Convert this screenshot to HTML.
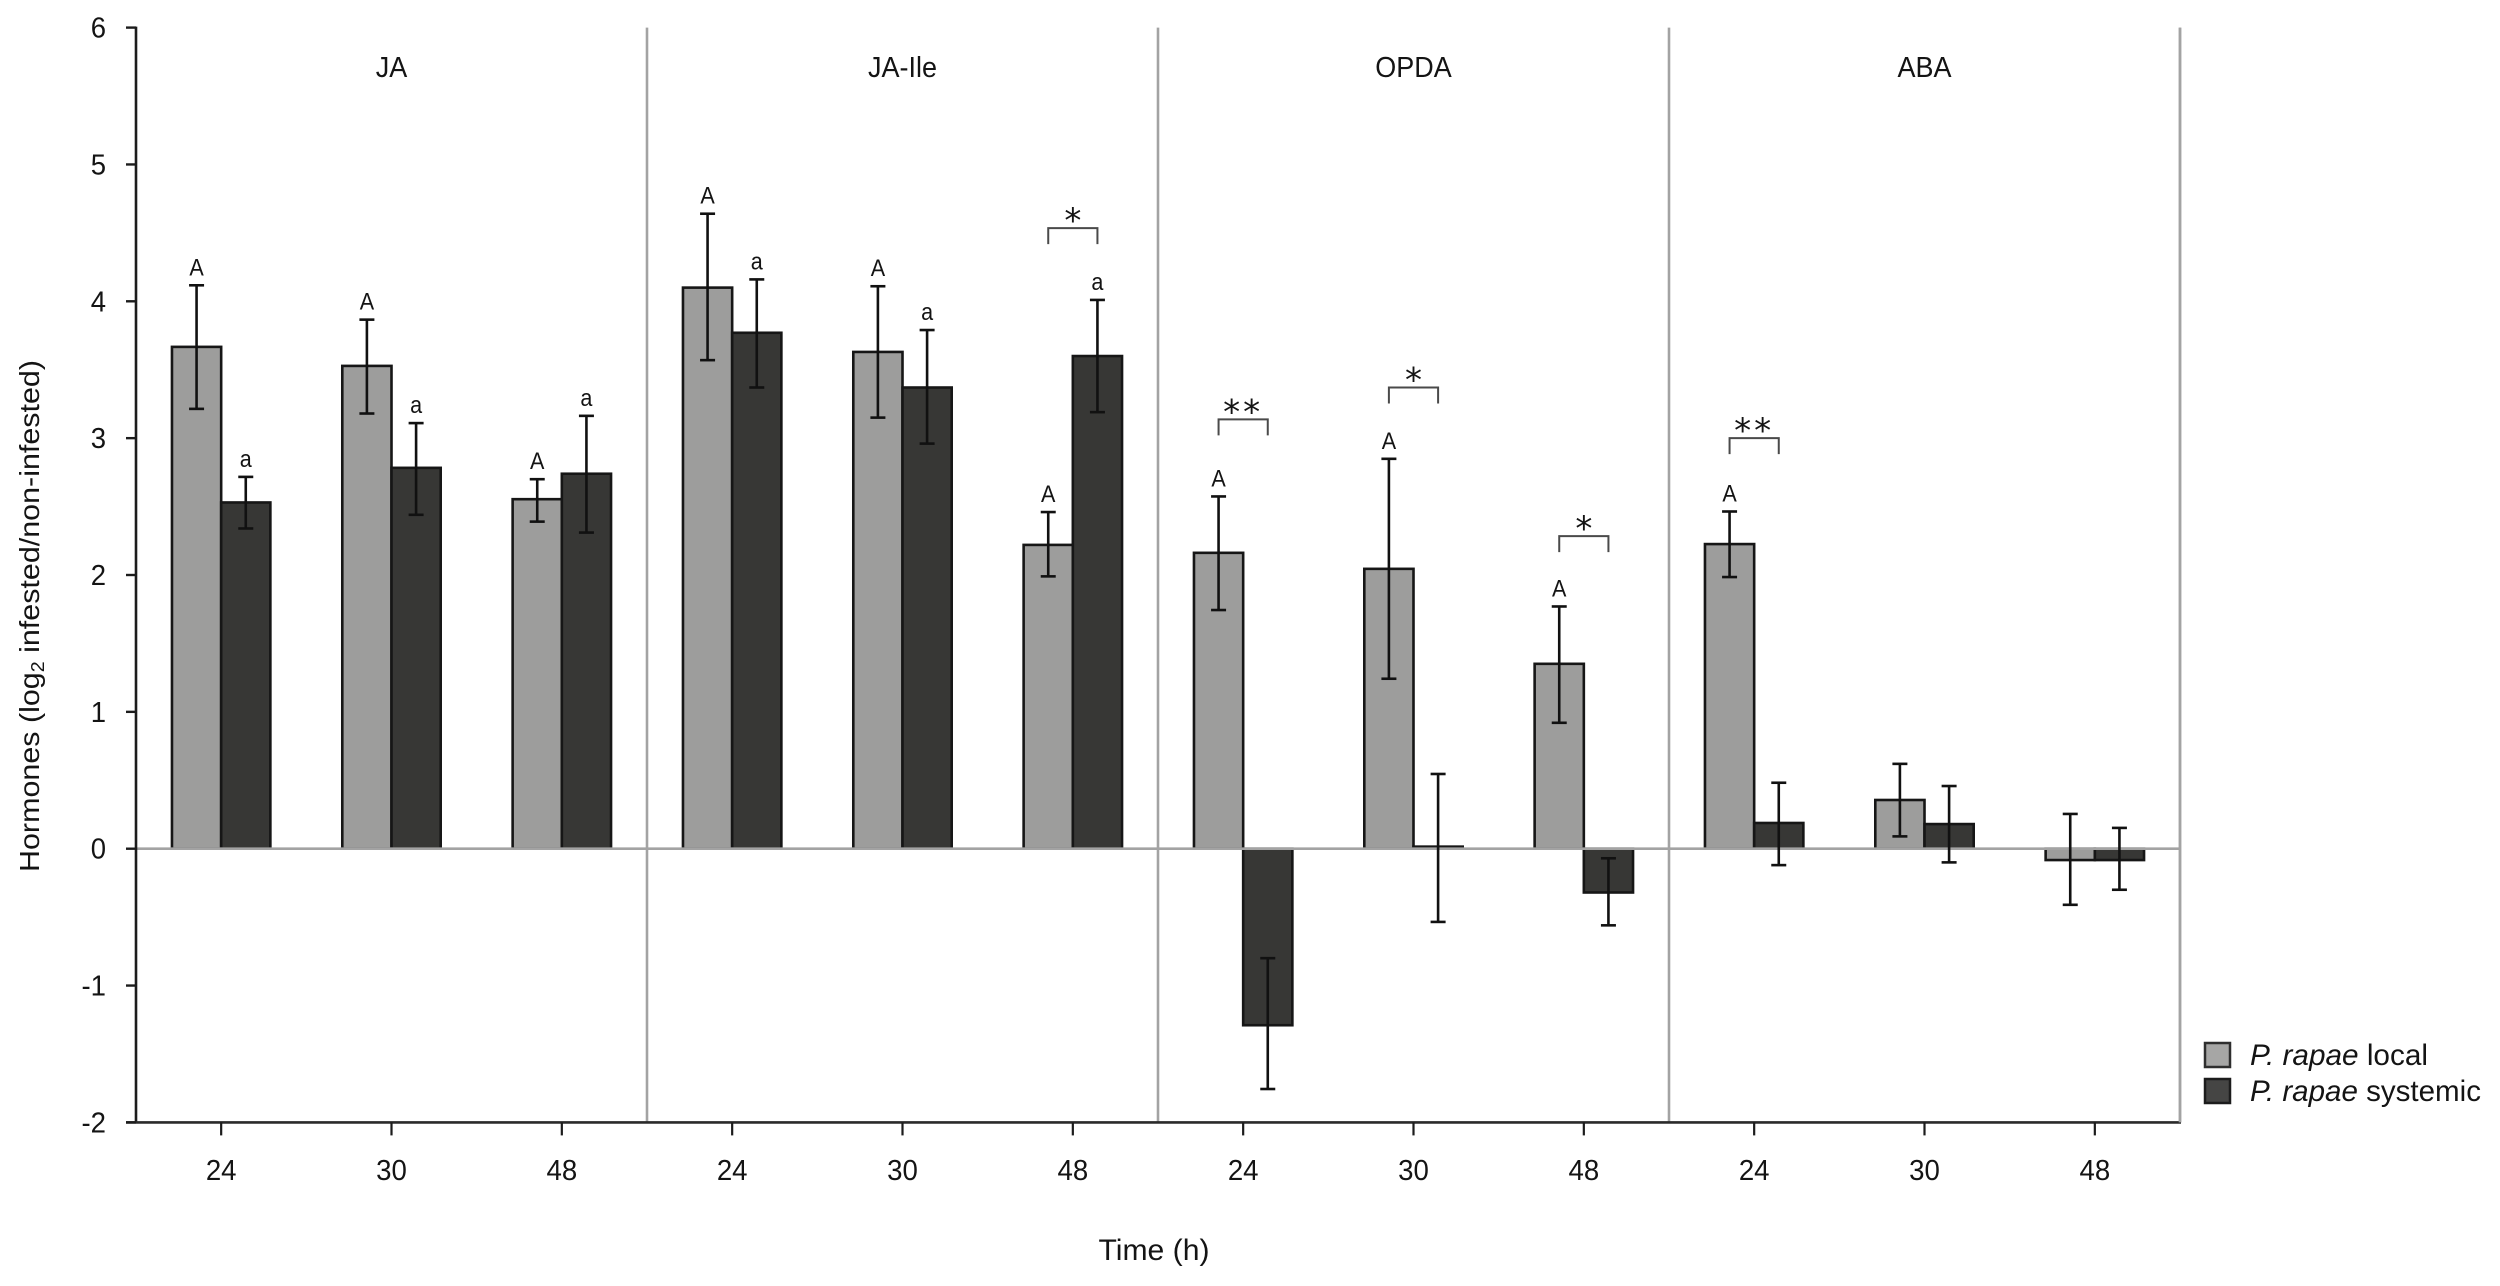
<!DOCTYPE html>
<html lang="en">
<head>
<meta charset="utf-8">
<title>Hormones bar chart</title>
<style>
html,body{margin:0;padding:0;background:#fff;}
#chart{display:block;width:2500px;height:1286px;font-family:"Liberation Sans",sans-serif;fill:#141414;}
</style>
</head>
<body>
<svg id="chart" xmlns="http://www.w3.org/2000/svg" width="2500" height="1286" viewBox="0 0 2500 1286">
  <g id="plot-bars"></g>
  <g id="plot-grid"></g>
  <g id="plot-errors"></g>
  <g id="plot-letters"></g>
  <g id="plot-sig"></g>
  <g id="plot-axes"></g>
  <g id="plot-panels"></g>
  <text transform="translate(39,616) rotate(-90)" text-anchor="middle" font-size="28" textLength="512" lengthAdjust="spacingAndGlyphs">Hormones (log<tspan font-size="18" dy="5">2</tspan><tspan dy="-5"> infested/non-infested)</tspan></text>
  <text x="1154" y="1260" text-anchor="middle" font-size="30" textLength="111" lengthAdjust="spacingAndGlyphs">Time (h)</text>
  <g>
    <g>
      <rect x="2205" y="1043" width="25" height="24" fill="#a6a6a5" stroke="#2e2e2e" stroke-width="2.5"/>
      <text x="2250" y="1065" font-size="30" textLength="178" lengthAdjust="spacingAndGlyphs"><tspan font-style="italic">P. rapae</tspan> local</text>
    </g>
    <g>
      <rect x="2205" y="1079" width="25" height="24" fill="#454544" stroke="#1c1c1c" stroke-width="2.5"/>
      <text x="2250" y="1101" font-size="30" textLength="231" lengthAdjust="spacingAndGlyphs"><tspan font-style="italic">P. rapae</tspan> systemic</text>
    </g>
  </g>
</svg>
<script>
const panels = ['JA', 'JA-Ile', 'OPDA', 'ABA'];
const times = ['24', '30', '48', '24', '30', '48', '24', '30', '48', '24', '30', '48'];
const yTicks = ['6', '5', '4', '3', '2', '1', '0', '-1', '-2'];

const localValues = [3.667, 3.528, 2.554, 4.10, 3.63, 2.22, 2.162, 2.045, 1.351, 2.226, 0.356, -0.083];
const localErrHigh = [4.117, 3.866, 2.70, 4.64, 4.11, 2.46, 2.574, 2.849, 1.77, 2.464, 0.62, 0.254];
const localErrLow = [3.214, 3.18, 2.39, 3.57, 3.15, 1.99, 1.744, 1.242, 0.92, 1.985, 0.09, -0.41];

const systemicValues = [2.53, 2.783, 2.74, 3.77, 3.37, 3.60, -1.29, 0.015, -0.32, 0.188, 0.18, -0.083];
const systemicErrHigh = [2.717, 3.11, 3.163, 4.16, 3.79, 4.01, -0.80, 0.546, -0.07, 0.482, 0.458, 0.152];
const systemicErrLow = [2.34, 2.44, 2.31, 3.37, 2.96, 3.19, -1.756, -0.535, -0.56, -0.12, -0.10, -0.30];

const localLetters = ['A', 'A', 'A', 'A', 'A', 'A', 'A', 'A', 'A', 'A', '', ''];
const systemicLetters = ['a', 'a', 'a', 'a', 'a', 'a', '', '', '', '', '', ''];

const sigCategories = [5, 6, 7, 8, 9];
const sigLevels = [4.535, 3.137, 3.37, 2.284, 3.0];
const sigStars = ['*', '**', '*', '*', '**'];

const SVGNS = 'http://www.w3.org/2000/svg';
const plotLeft = 136, plotRight = 2180, zeroY = 848.7, unitY = 136.85;
const barWidth = 49.2;
const categoryWidth = (plotRight - plotLeft) / times.length;
const xCenter = function (i) { return plotLeft + categoryWidth * (i + 0.5); };
const yScale = function (v) { return zeroY - unitY * v; };
const localX = function (i) { return xCenter(i) - barWidth / 2; };
const systemicX = function (i) { return xCenter(i) + barWidth / 2; };

function make(parent, tag, attrs) {
  const el = document.createElementNS(SVGNS, tag);
  Object.keys(attrs).forEach(function (k) { el.setAttribute(k, attrs[k]); });
  parent.appendChild(el);
  return el;
}
function line(parent, x1, y1, x2, y2, color, width) {
  return make(parent, 'line', { x1: x1, y1: y1, x2: x2, y2: y2, stroke: color, 'stroke-width': width });
}
/* narrow the tall Liberation glyphs so they read like the condensed original */
function condense(el, factor) {
  const w = el.getComputedTextLength();
  el.setAttribute('textLength', (w * factor).toFixed(1));
  el.setAttribute('lengthAdjust', 'spacingAndGlyphs');
}

const barsG = document.getElementById('plot-bars');
const gridG = document.getElementById('plot-grid');
const errG = document.getElementById('plot-errors');
const letG = document.getElementById('plot-letters');
const sigG = document.getElementById('plot-sig');
const axG = document.getElementById('plot-axes');
const panelG = document.getElementById('plot-panels');

function drawBar(cx, v, fill, name) {
  const y = Math.min(yScale(v), yScale(0));
  const h = Math.abs(yScale(v) - yScale(0));
  const el = make(barsG, 'rect', { x: cx - barWidth / 2, y: y, width: barWidth, height: h, fill: fill, stroke: '#161616', 'stroke-width': 2.6 });
  
  
}
function drawError(cx, hi, lo, name) {
  const g = make(errG, 'g', {});
  
  
  line(g, cx, yScale(hi), cx, yScale(lo), '#111', 2.6);
  line(g, cx - 7.5, yScale(hi), cx + 7.5, yScale(hi), '#111', 2.6);
  line(g, cx - 7.5, yScale(lo), cx + 7.5, yScale(lo), '#111', 2.6);
}
function drawLetter(cx, hi, s, name) {
  if (!s) return;
  const el = make(letG, 'text', { x: cx, y: yScale(hi) - 10, 'text-anchor': 'middle', 'font-size': 24 });
  el.textContent = s;
  condense(el, 0.9);
  
  
}

times.forEach(function (t, i) {
  drawBar(localX(i), localValues[i], '#9d9d9c', 'bar-local');
  drawBar(systemicX(i), systemicValues[i], '#373735', 'bar-systemic');
});

/* gray zero line and panel dividers */
const zeroLine = line(gridG, plotLeft, yScale(0), plotRight, yScale(0), '#a3a3a3', 2.6);


panels.forEach(function (p, k) {
  const x = plotLeft + categoryWidth * 3 * (k + 1);
  const d = line(gridG, x, yScale(6), x, yScale(-2), '#a3a3a3', 2.6);
  
  
  const title = make(panelG, 'text', { x: x - categoryWidth * 1.5, y: 77, 'text-anchor': 'middle', 'font-size': 29 });
  title.textContent = p;
  condense(title, 0.93);
  
  
});

times.forEach(function (t, i) {
  drawError(localX(i), localErrHigh[i], localErrLow[i], 'error-bar-local');
  drawError(systemicX(i), systemicErrHigh[i], systemicErrLow[i], 'error-bar-systemic');
  drawLetter(localX(i), localErrHigh[i], localLetters[i], 'letter-local');
  drawLetter(systemicX(i), systemicErrHigh[i], systemicLetters[i], 'letter-systemic');
});

sigCategories.forEach(function (c, k) {
  const top = yScale(sigLevels[k]);
  const x1 = localX(c), x2 = systemicX(c);
  const b = make(sigG, 'path', { d: 'M' + x1 + ' ' + (top + 16) + 'V' + top + 'H' + x2 + 'V' + (top + 16), fill: 'none', stroke: '#4a4a4a', 'stroke-width': 2 });
  
  
  const s = make(sigG, 'text', { x: (x1 + x2) / 2, y: top + 4, 'text-anchor': 'middle', 'font-size': 34, 'font-family': '"DejaVu Sans", sans-serif', 'letter-spacing': sigStars[k].length > 1 ? 3 : 0 });
  s.textContent = sigStars[k];
  
  
});

/* axes */
const yAxis = line(axG, plotLeft, yScale(6) - 1, plotLeft, yScale(-2) + 1, '#1c1c1c', 2.6);


const xAxis = line(axG, plotLeft - 10, yScale(-2), plotRight + 1, yScale(-2), '#2a2a2a', 2.6);


const rightEdge = line(axG, plotRight, yScale(6), plotRight, yScale(-2), '#a3a3a3', 2.6);



yTicks.forEach(function (t) {
  const v = parseFloat(t);
  const tick = line(axG, plotLeft - 10, yScale(v), plotLeft, yScale(v), '#1c1c1c', 2.4);
  
  
  const label = make(axG, 'text', { x: 106, y: yScale(v) + 10, 'text-anchor': 'end', 'font-size': 29 });
  label.textContent = t;
  condense(label, 0.95);
  
  
});
times.forEach(function (t, i) {
  const tick = line(axG, xCenter(i), yScale(-2), xCenter(i), yScale(-2) + 13, '#1c1c1c', 2.2);
  
  
  const label = make(axG, 'text', { x: xCenter(i), y: 1180, 'text-anchor': 'middle', 'font-size': 29 });
  label.textContent = t;
  condense(label, 0.95);
  
  
});
</script>
</body>
</html>
